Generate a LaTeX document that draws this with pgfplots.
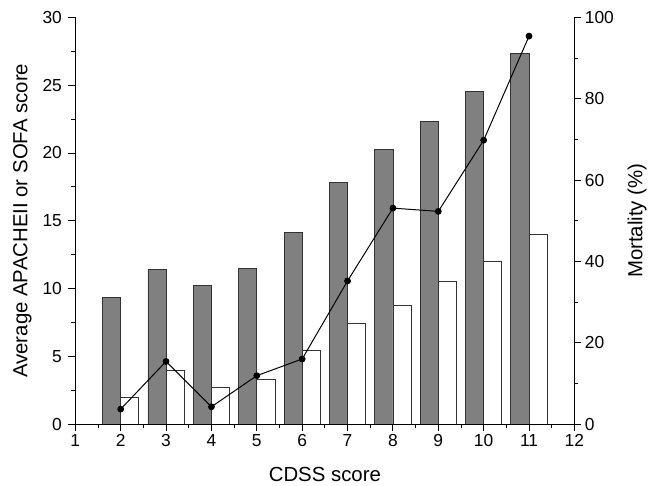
\documentclass[border=0pt]{standalone}
\usepackage{pgfplots}
\pgfplotsset{compat=1.18}
\usepackage{fontspec}
\setmainfont{Liberation Sans}
\definecolor{bargrey}{HTML}{808080}
\begin{document}
\begin{tikzpicture}
\pgfplotsset{
  every axis/.append style={
    scale only axis, width=502pt, height=409pt,
    xmin=1, xmax=12,
    major tick length=7pt, minor tick length=4pt,
    tick style={line width=0.9pt, black},
    axis line style={-, line width=0.9pt},
    tick label style={font=\fontsize{17.5}{20}\selectfont},
    /pgf/number format/assume math mode=true,
  },
}
\begin{axis}[
  axis x line*=bottom, axis y line*=left,
  tick align=outside, xtick pos=bottom, ytick pos=left,
  axis on top,
  ymin=0, ymax=30,
  xtick={1,...,12}, minor x tick num=1,
  ytick={0,5,...,30}, minor y tick num=1,
  yticklabel style={xshift=-3pt},
  xlabel={CDSS score}, ylabel={Average APACHEII or SOFA score},
  xlabel style={font=\fontsize{20.5}{24}\selectfont, yshift=-14pt},
  ylabel style={font=\fontsize{20.5}{24}\selectfont, yshift=4pt},
  ybar, bar width=0.4,
]
\addplot[fill=bargrey, draw=black!80, line width=0.8pt, bar shift=-0.2] coordinates {
(2,9.32) (3,11.41) (4,10.23) (5,11.5) (6,14.15) (7,17.84) (8,20.26) (9,22.35) (10,24.55) (11,27.36)};
\addplot[fill=white, draw=black!80, line width=0.8pt, bar shift=0.2] coordinates {
(2,1.98) (3,3.96) (4,2.72) (5,3.28) (6,5.46) (7,7.42) (8,8.74) (9,10.55) (10,12.0) (11,13.98)};
\end{axis}
\begin{axis}[
  axis x line=none, axis y line*=right,
  tick align=outside, ytick pos=right,
  ymin=0, ymax=100,
  ytick={0,20,...,100}, minor y tick num=1,
  ylabel={Mortality (\%)},
  ylabel style={font=\fontsize{20.5}{24}\selectfont, yshift=-7pt},
]
\addplot[black, line width=1pt, mark=*, mark size=2.9pt] coordinates {
(2,3.67) (3,15.4) (4,4.25) (5,11.9) (6,16.0) (7,35.2) (8,53.1) (9,52.3) (10,69.8) (11,95.4)};
\end{axis}
\path (current bounding box.north west) ++(-10pt,8pt);
\end{tikzpicture}
\end{document}
